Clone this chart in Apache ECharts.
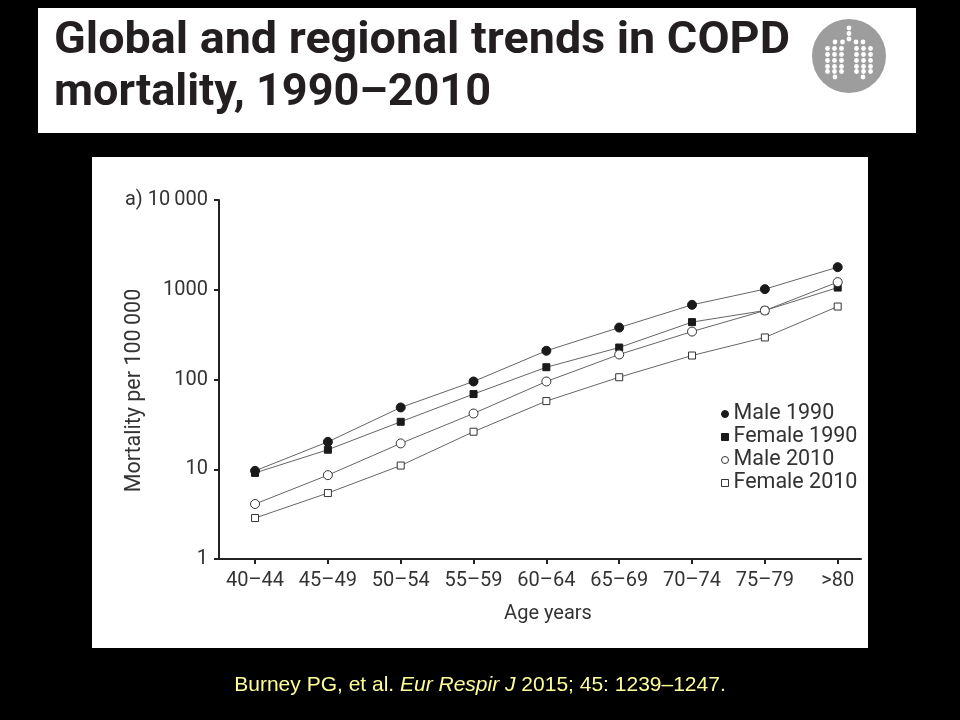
<!DOCTYPE html>
<html><head><meta charset="utf-8">
<script src="https://cdn.jsdelivr.net/npm/echarts@6/dist/echarts.min.js"></script>
<style>html,body{margin:0;padding:0;background:#000;} #c{width:960px;height:720px;}</style>
</head><body><div id="c"></div>
<script>
// ---- data ----
const categories = ['40–44','45–49','50–54','55–59','60–64','65–69','70–74','75–79','>80'];
const male1990   = [9.6, 20.2, 48.8, 95, 209, 379, 679, 1016, 1785];
const female1990 = [9.1, 16.5, 33.8, 68.8, 137, 227, 436, 587, 1058];
const male2010   = [4.1, 8.6, 19.4, 41.8, 95, 190, 342, 587, 1216];
const female2010 = [2.86, 5.43, 11.0, 26.2, 57.5, 106, 185, 294, 650];
const seriesNames = ['Male 1990','Female 1990','Male 2010','Female 2010'];
const yTickLabels = ['1','10','100','1000','a) 10\u2009000'];
const titleLines = ['Global and regional trends in COPD','mortality, 1990–2010'];

// ---- helpers ----
function measure(text, font){
  const ctx = document.createElement('canvas').getContext('2d');
  ctx.font = font; return ctx.measureText(text).width;
}
const titleFont = 'bold 44px Roboto';
const s1 = 736 / measure(titleLines[0], titleFont);
const s2 = 437 / measure(titleLines[1], titleFont);

const idx = categories.map((c,i)=>i);
const toPts = arr => arr.map((v,i)=>[i,v]);

const FILLED = {color:'#1a1a1a', borderColor:'#1a1a1a', borderWidth:1};
const OPEN = {color:'#ffffff', borderColor:'#333', borderWidth:1};

// logo dots
const logoDots = [];
[[849,28],[849,33.5],[849,39]].forEach(p=>logoDots.push(p));
[835,842.5,856,863].forEach(x=>logoDots.push([x,42]));
[48.5,54.5,60.5,66.5,71.5].forEach(y=>{
  [827.5,834.5,841.5,856.5,863.5,870.5].forEach(x=>logoDots.push([x,y]));
});
logoDots.push([835,77]); logoDots.push([863,77]);

const graphic = [
  {type:'rect', z:-10, shape:{x:38,y:8,width:878,height:125}, style:{fill:'#fff'}, silent:true},
  {type:'rect', z:-10, shape:{x:92,y:157,width:776,height:491}, style:{fill:'#fff'}, silent:true},
  {type:'text', x:54, y:42, scaleX:s1, style:{text:titleLines[0], font:titleFont, fill:'#231f20', verticalAlign:'middle'}},
  {type:'text', x:54, y:94, scaleX:s2, style:{text:titleLines[1], font:titleFont, fill:'#231f20', verticalAlign:'middle'}},
  {type:'circle', shape:{cx:849, cy:56, r:37}, style:{fill:'#9d9d9d'}},
].concat(logoDots.map(p=>({type:'circle', shape:{cx:p[0], cy:p[1], r:2.4}, style:{fill:'#fff'}})))
 .concat([{
  type:'text', x:480, y:685,
  style:{
    text:'{n|Burney PG, et al. }{i|Eur Respir J}{n| 2015; 45: 1239–1247.}',
    rich:{
      n:{fontSize:21, fontFamily:'Liberation Sans', fill:'#ffff99'},
      i:{fontSize:21, fontFamily:'Liberation Sans', fontStyle:'italic', fill:'#ffff99'}
    },
    align:'center', verticalAlign:'middle'
  }
}]);

const labelStyle = {color:'#333', fontSize:20, fontFamily:'Roboto'};

const symbols = ['circle','rect','circle','rect'];
const sizes = [9,7,9,7];
const styles = [FILLED, FILLED, OPEN, OPEN];
const datas = [male1990, female1990, male2010, female2010];

const option = {
  backgroundColor:'#000',
  animation:false,
  graphic: graphic,
  grid:{left:219, right:99, top:200, bottom:161},
  legend:{
    orient:'vertical', left:716, top:398, itemWidth:7, itemHeight:7, itemGap:1,
    textStyle:{color:'#333', fontSize:21.5, lineHeight:22, fontFamily:'Roboto'},
    data: seriesNames.map((n,i)=>({name:n, icon:symbols[i], itemStyle:styles[i]}))
  },
  xAxis:{
    type:'value', min:-0.495, max:8.32,
    axisLine:{onZero:false, lineStyle:{color:'#222', width:2}},
    axisTick:{customValues:idx, length:5, lineStyle:{color:'#222', width:2}},
    axisLabel:Object.assign({customValues:idx, margin:12, formatter:v=>categories[Math.round(v)]}, labelStyle),
    splitLine:{show:false},
    name:'Age years', nameLocation:'middle', nameGap:45,
    nameTextStyle:Object.assign({padding:[0,0,0,16]}, labelStyle)
  },
  yAxis:{
    type:'log', logBase:10, min:1, max:10000,
    axisLine:{show:true, onZero:false, lineStyle:{color:'#222', width:2}},
    axisTick:{show:true, length:5, lineStyle:{color:'#222', width:2}},
    minorTick:{show:false},
    axisLabel:Object.assign({margin:11, formatter:v=>yTickLabels[Math.round(Math.log10(v))]}, labelStyle),
    splitLine:{show:false},
    name:'Mortality per 100\u2009000', nameLocation:'middle', nameGap:73, nameRotate:90,
    nameMoveOverlap:false,
    nameTextStyle:Object.assign({padding:[0,22,0,0]}, labelStyle, {fontSize:21.5})
  },
  series: datas.map((d,i)=>({
    name:seriesNames[i], type:'line', data:toPts(d),
    symbol:symbols[i], symbolSize:sizes[i], showSymbol:true,
    lineStyle:{color:'#666', width:1},
    itemStyle:styles[i],
    emphasis:{disabled:true}
  }))
};

const chart = echarts.init(document.getElementById('c'), null, {renderer:'canvas'});
chart.setOption(option);
</script></body></html>
